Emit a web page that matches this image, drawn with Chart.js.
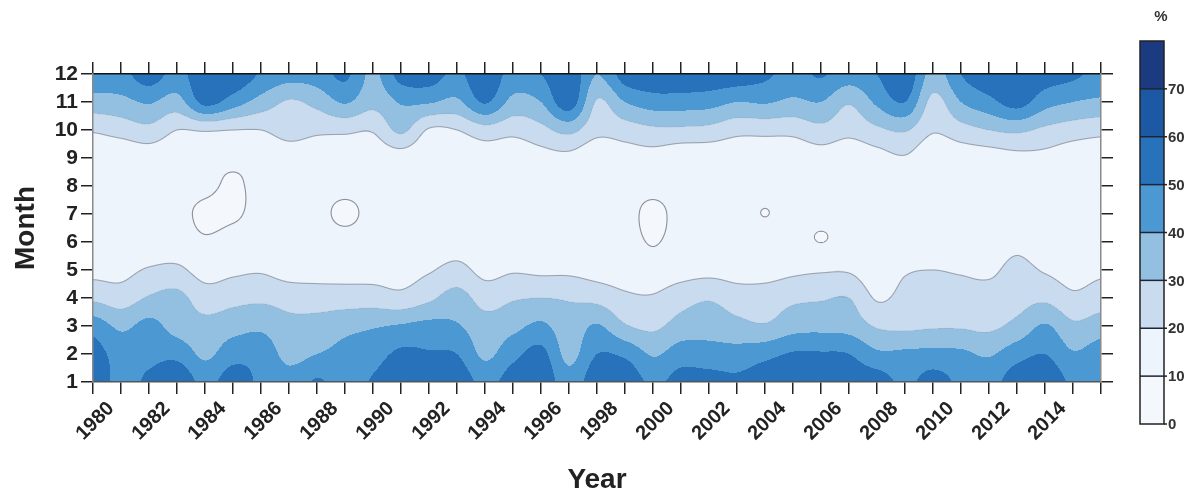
<!DOCTYPE html>
<html><head><meta charset="utf-8">
<script src="https://cdn.jsdelivr.net/npm/chart.js@4.4.1/dist/chart.umd.min.js"></script>
<style>html,body{margin:0;padding:0;background:#fff;}#wrap{width:1189px;height:495px;}</style>
</head><body><div id="wrap"><canvas id="c" width="1189" height="495"></canvas></div>
<script>
// ---- data (percent, month x year) ----
const years = [1980,1981,1982,1983,1984,1985,1986,1987,1988,1989,1990,1991,1992,1993,1994,1995,1996,1997,1998,1999,2000,2001,2002,2003,2004,2005,2006,2007,2008,2009,2010,2011,2012,2013,2014,2015,2016];
const months = [1,2,3,4,5,6,7,8,9,10,11,12];
const m01 = [56,47,52,58,47,55,48,44,51,46,51,57,58,57,47,55,58,44,57,57,48,54,54,52,56,58,58,56,55,48,54,48,46,56,58,48,48];
const m02 = [54,46,47,47,38,46,46,37,40,43,46,52,51,50,38,47,53,37,50,48,39,45,44,44,47,51,51,50,42,42,43,42,39,46,50,41,45];
const m03 = [46,38,43,36,33,36,38,33,34,37,39,41,43,41,34,37,42,34,41,31,28,34,36,33,31,36,37,36,29,28,29,29,28,33,41,32,35];
const m04 = [28,25,31,33,25,27,28,26,25,25,25,23,28,34,26,29,30,29,27,22,21,26,29,25,25,28,29,30,19,23,24,24,24,26,28,22,25];
const m05 = [17,17,21,22,16,18,19,16,16,16,16,16,19,23,17,19,18,18,16,15,14,16,17,16,16,18,19,19,14,19,20,19,18,23,19,16,18];
const m06 = [13,13,13,14,11,13,13,13,13,13,13,13,13,15,13,13,13,13,13,13,9.5,13,13,13,13,13,9.93,13,13,13,14,13,13,17,13,13,13];
const m07 = [12,12,12,12,8.5,9,12,12,12,8.5,12,12,12,12,12,12,12,12,12,12,8.5,12,12,12,9.9,12,12,12,12,12,12,12,12,12,12,12,12];
const m08 = [12,12,12,12,11.5,9,12,12,12,12,12,12,12,12,12,12,12,12,12,12,12,12,12,12,12,12,12,12,12,12,12,12,12,12,12,12,12];
const m09 = [13,12,14,12,12,12,12,14,13,13,13,15,12,12,14,13,16,17,12,15,16,13,13,13,13,13,15,13,16,19,12,14,15,17,17,14,13];
const m10 = [21,24,27,20,21,20,20,24,22,22,21,32,19,20,26,23,27,33,23,25,28,28,27,23,23,23,27,23,28,31,21,26,30,32,28,25,23];
const m11 = [36,37,41,36,53,45,36,29,33,41,33,41,41,38,51,37,40,56,29,40,45,45,44,40,41,38,40,31,42,50,27,40,47,54,44,40,38];
const m12 = [46,47,55,47,58,58,49,44,45,52,38,54,55,48,58,46,50,58,40,55,58,58,57,56,52,47,51,45,50,58,36,50,57,58,55,52,47];
const levels = [0,10,20,30,40,50,60,70,80];
const levelColors = ['#f4f8fd','#edf4fb','#c9dcef','#93c0e1','#4b98d2','#2872bc','#1d58a5','#1b3a80'];
const xTickLabels = ['1980','1982','1984','1986','1988','1990','1992','1994','1996','1998','2000','2002','2004','2006','2008','2010','2012','2014'];
const yTickLabels = ['1','2','3','4','5','6','7','8','9','10','11','12'];
const colorbarLabels = ['0','10','20','30','40','50','60','70'];

const rows = [m01,m02,m03,m04,m05,m06,m07,m08,m09,m10,m11,m12];
const points = [];
months.forEach((m, j) => years.forEach((y, i) => points.push({x: y, y: m, v: rows[j][i]})));

function hexRgb(h){ return [parseInt(h.slice(1,3),16), parseInt(h.slice(3,5),16), parseInt(h.slice(5,7),16)]; }
function cr(p0,p1,p2,p3,t){ return 0.5*(2*p1 + (-p0+p2)*t + (2*p0-5*p1+4*p2-p3)*t*t + (-p0+3*p1-3*p2+p3)*t*t*t); }
function sample(g, gx, gy){
  const ny = g.length, nx = g[0].length;
  gx = Math.max(0, Math.min(nx-1, gx)); gy = Math.max(0, Math.min(ny-1, gy));
  let i = Math.floor(gx), j = Math.floor(gy);
  if (i >= nx-1) i = nx-2; if (j >= ny-1) j = ny-2;
  const tx = gx - i, ty = gy - j;
  const cl = (k,n) => Math.max(0, Math.min(n-1, k));
  const col = [];
  for (let dj = -1; dj <= 2; dj++) {
    const r = g[cl(j+dj, ny)];
    col.push(cr(r[cl(i-1,nx)], r[i], r[i+1], r[cl(i+2,nx)], tx));
  }
  const v = cr(col[0], col[1], col[2], col[3], ty);
  const a = g[j][i], b = g[j][i+1], c = g[j+1][i], d = g[j+1][i+1];
  return Math.max(Math.min(a,b,c,d), Math.min(Math.max(a,b,c,d), v));
}

const fieldPlugin = {
  id: 'field',
  beforeDraw(chart) {
    const {ctx, chartArea: a, scales} = chart;
    const xs = scales.x, ys = scales.y;
    const data = chart.data.datasets[0].data;
    const grid = months.map(() => years.map(() => 0));
    data.forEach(p => { grid[months.indexOf(p.y)][years.indexOf(p.x)] = p.v; });
    const W = Math.round(a.right - a.left), H = Math.round(a.bottom - a.top);
    const gxs = new Float32Array(W), gys = new Float32Array(H);
    for (let px = 0; px < W; px++) gxs[px] = xs.getValueForPixel(a.left + px + 0.5) - years[0];
    for (let py = 0; py < H; py++) gys[py] = ys.getValueForPixel(a.top + py + 0.5) - months[0];
    const f = new Float32Array(W*H);
    for (let py = 0; py < H; py++) for (let px = 0; px < W; px++) f[py*W+px] = sample(grid, gxs[px], gys[py]);
    const cols = levelColors.map(hexRgb);
    const lines = [{L:10, c:[135,138,150], s:0.95}, {L:20, c:[145,150,162], s:0.85}, {L:30, c:[140,160,185], s:0.3}];
    const off = document.createElement('canvas'); off.width = W; off.height = H;
    const octx = off.getContext('2d');
    const img = octx.createImageData(W, H);
    const lo = levels[0], step = levels[1]-levels[0];
    for (let py = 0; py < H; py++) for (let px = 0; px < W; px++) {
      const k = py*W+px, v = f[k];
      let b = Math.floor((v-lo)/step); b = Math.max(0, Math.min(cols.length-1, b));
      let [r,g,bl] = cols[b];
      const xl = f[py*W+Math.max(0,px-1)], xr = f[py*W+Math.min(W-1,px+1)];
      const yu = f[Math.max(0,py-1)*W+px], yd = f[Math.min(H-1,py+1)*W+px];
      const gr = Math.hypot((xr-xl)/2, (yd-yu)/2);
      for (const ln of lines) {
        if (gr < 1e-5) continue;
        const d = Math.abs(v-ln.L)/gr;
        const al = Math.max(0, Math.min(1, 1.05 - d)) * ln.s;
        if (al > 0) { r = r*(1-al)+ln.c[0]*al; g = g*(1-al)+ln.c[1]*al; bl = bl*(1-al)+ln.c[2]*al; }
      }
      img.data[k*4] = r; img.data[k*4+1] = g; img.data[k*4+2] = bl; img.data[k*4+3] = 255;
    }
    octx.putImageData(img, 0, 0);
    ctx.drawImage(off, a.left, a.top);
  },
  afterDraw(chart) {
    const ctx = chart.ctx;
    const L = 1140, R = 1164, T = 41, B = 424;
    const lo = levels[0], hi = levels[levels.length-1];
    const py = v => B - (v-lo)/(hi-lo)*(B-T);
    ctx.save();
    for (let k = 0; k < levelColors.length; k++) {
      ctx.fillStyle = levelColors[k];
      ctx.fillRect(L, py(levels[k+1]), R-L, py(levels[k]) - py(levels[k+1]));
    }
    ctx.strokeStyle = '#1e2434'; ctx.lineWidth = 1.5;
    for (let k = 1; k < levels.length-1; k++) {
      ctx.beginPath(); ctx.moveTo(L, py(levels[k])); ctx.lineTo(R+3, py(levels[k])); ctx.stroke();
    }
    ctx.strokeStyle = '#222'; ctx.lineWidth = 1.5;
    ctx.strokeRect(L, T, R-L, B-T);
    ctx.beginPath(); ctx.moveTo(R, B); ctx.lineTo(R+3, B); ctx.stroke();
    ctx.fillStyle = '#333'; ctx.font = "bold 15px 'Liberation Sans', Arial, sans-serif";
    ctx.textAlign = 'left'; ctx.textBaseline = 'middle';
    colorbarLabels.forEach((t, k) => ctx.fillText(t, R+4, py(levels[k]) + 1));
    ctx.font = "bold 15px 'Liberation Sans', Arial, sans-serif";
    ctx.textAlign = 'center';
    ctx.fillText('%', 1161, 17);
    ctx.restore();
  }
};

Chart.defaults.font.family = "'Liberation Sans', Arial, sans-serif";
Chart.defaults.color = '#222';

const tickGrid = (color) => ({drawOnChartArea: false, drawTicks: true, tickLength: 12, color: color, lineWidth: 1.5});

new Chart(document.getElementById('c'), {
  type: 'scatter',
  data: { datasets: [{ label: '%', data: points, pointRadius: 0, pointHoverRadius: 0, showLine: false }] },
  plugins: [fieldPlugin],
  options: {
    responsive: false, animation: false, devicePixelRatio: 1,
    layout: { padding: { left: 0, right: 76, top: 62, bottom: 0 } },
    plugins: { legend: { display: false }, tooltip: { enabled: false } },
    events: [],
    scales: {
      x: {
        type: 'linear', position: 'bottom', min: years[0], max: years[years.length-1],
        afterBuildTicks: s => { s.ticks = years.map(v => ({value: v})); },
        afterFit: s => { s.height = 113; },
        ticks: { autoSkip: false, minRotation: 45, maxRotation: 45, padding: 3, labelOffset: 18,
                 font: { size: 20, weight: 'bold' }, color: '#222',
                 callback: v => xTickLabels.includes(String(v)) ? String(v) : '' },
        grid: tickGrid('#222'),
        border: { display: true, color: '#555', width: 1.5 },
        title: { display: true, text: 'Year', font: { size: 28, weight: 'bold', lineHeight: 1.0 }, color: '#222', padding: { top: 0, bottom: 1 } }
      },
      x2: {
        type: 'linear', position: 'top', min: years[0], max: years[years.length-1],
        afterBuildTicks: s => { s.ticks = years.map(v => ({value: v})); },
        afterFit: s => { s.height = 12; },
        ticks: { display: false },
        grid: tickGrid('#222'),
        border: { display: true, color: '#111', width: 1.5 }
      },
      y: {
        type: 'linear', position: 'left', min: months[0], max: months[months.length-1],
        afterBuildTicks: s => { s.ticks = months.map(v => ({value: v})); },
        afterFit: s => { s.width = 93; },
        ticks: { autoSkip: false, padding: 3, font: { size: 21, weight: 'bold' }, color: '#222',
                 callback: v => yTickLabels[months.indexOf(v)] },
        grid: tickGrid('#222'),
        border: { display: true, color: '#8a8a8a', width: 1.5 },
        title: { display: true, text: 'Month', font: { size: 28, weight: 'bold' }, color: '#222', padding: { top: 9, bottom: 0 } }
      },
      y2: {
        type: 'linear', position: 'right', min: months[0], max: months[months.length-1],
        afterBuildTicks: s => { s.ticks = months.map(v => ({value: v})); },
        afterFit: s => { s.width = 12; },
        ticks: { display: false },
        grid: tickGrid('#222'),
        border: { display: true, color: '#8a8a8a', width: 1.5 }
      }
    }
  }
});
</script>
</body></html>
